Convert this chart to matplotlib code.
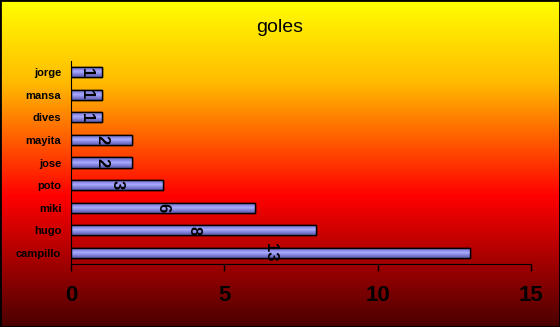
import numpy as np
import matplotlib
matplotlib.use("Agg")
import matplotlib.pyplot as plt
from matplotlib.colors import LinearSegmentedColormap
from matplotlib.patches import Rectangle

players = ["campillo", "hugo", "miki", "poto", "jose", "mayita", "dives", "mansa", "jorge"]
goals = [13, 8, 6, 3, 2, 2, 1, 1, 1]
x_ticks = [0, 5, 10, 15]
title = "goles"

plt.rcParams["font.family"] = ["Liberation Sans", "DejaVu Sans"]

fig = plt.figure(figsize=(5.6, 3.27), dpi=100)

# background gradient: yellow -> red -> dark red
bg = fig.add_axes([0, 0, 1, 1], zorder=0)
bg_cmap = LinearSegmentedColormap.from_list(
    "bg", [(0.0, "#ffff00"), (0.25, "#ffbb00"), (0.6, "#ff0000"), (1.0, "#4a0000")])
grad = np.linspace(0, 1, 256).reshape(-1, 1)
bg.imshow(grad, cmap=bg_cmap, aspect="auto", extent=(0, 1, 0, 1), origin="upper")
bg.set_xlim(0, 1)
bg.set_ylim(0, 1)
bg.axis("off")
bg.add_patch(Rectangle((0, 0), 1, 1, transform=bg.transAxes, fill=False,
                       edgecolor="black", linewidth=2))

ax = fig.add_axes([71 / 560, 1 - 264 / 327, 460 / 560, 203 / 327], zorder=1)
ax.set_facecolor("none")

ypos = np.arange(len(players))
bars = ax.barh(ypos, goals, height=0.45, color="#8888e0", edgecolor="black",
               linewidth=1.0, zorder=2)

bar_cmap = LinearSegmentedColormap.from_list(
    "bar", [(0.0, "#6060b8"), (0.3, "#8a8ae6"), (0.5, "#aaaaff"),
            (0.75, "#8080d8"), (1.0, "#5a5ab0")])
for b in bars:
    x0, y0, w, h = b.get_x(), b.get_y(), b.get_width(), b.get_height()
    im = ax.imshow(grad, cmap=bar_cmap, aspect="auto",
                   extent=(x0, x0 + w, y0, y0 + h), origin="upper", zorder=2.5)
    im.set_clip_path(b)
    ax.add_patch(Rectangle((x0, y0), w, h, fill=False, edgecolor="black",
                           linewidth=1.0, zorder=3))

for y, g in zip(ypos, goals):
    ax.text(g / 2, y, str(g), rotation=-90, ha="center", va="center",
            fontsize=12, fontweight="bold", color="black", zorder=4)

ax.set_xlim(0, 15)
ax.set_ylim(-0.5, len(players) - 0.5)
ax.set_xticks(x_ticks)
ax.set_xticklabels([str(t) for t in x_ticks], fontsize=16, fontweight="bold")
ax.set_yticks(ypos)
ax.set_yticklabels(players, fontsize=8, fontweight="bold")
ax.tick_params(axis="x", direction="out", length=5, pad=10, width=1)
ax.tick_params(axis="y", length=0, pad=7)
ax.spines["top"].set_visible(False)
ax.spines["right"].set_visible(False)

fig.text(0.5, 1 - 28 / 327, title, ha="center", va="center", fontsize=14)

fig.savefig("out.png", dpi=100)
